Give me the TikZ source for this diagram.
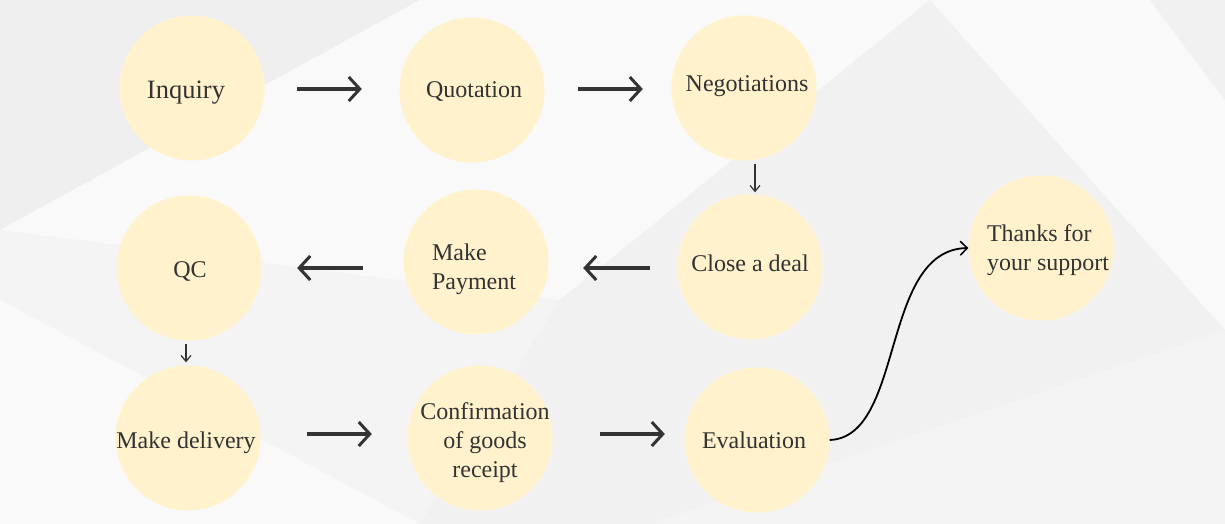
\documentclass[tikz,border=0pt]{standalone}
\usepackage{fontspec}
\setmainfont{Liberation Serif}
\usetikzlibrary{arrows.meta}
\definecolor{bub}{HTML}{FFF2CC}
\definecolor{ink}{HTML}{333333}
\definecolor{bga}{HTML}{F4F4F4}
\definecolor{bgb}{HTML}{F9F9F9}
\definecolor{bgc}{HTML}{EFEFEF}
\begin{document}
\begin{tikzpicture}[x=1pt,y=-1pt,
  bubble/.style={circle,fill=bub,minimum size=145pt,inner sep=0pt},
  txt/.style={text=ink,font=\fontsize{24}{29}\selectfont,align=center,inner sep=0pt},
  bigarrow/.style={draw=ink,line width=3.5pt,-{Straight Barb[length=11pt,width=24pt,line width=3pt]}},
  smallarrow/.style={draw=ink,line width=1.3pt,-{Straight Barb[length=6pt,width=10pt,line width=1.2pt]}},
  curvearrow/.style={draw=black,line width=1.8pt,-{Straight Barb[length=7pt,width=14pt,line width=1.5pt]}}]
% background
\fill[bga] (0,0) rectangle (1225,524);
\useasboundingbox (0,0) rectangle (1225,524);
\fill[bgc] (0,0) -- (420,0) -- (0,230) -- cycle;
\fill[bgb] (420,0) -- (930,0) -- (560,300) -- (0,230) -- cycle;
\fill[bgb] (0,300) -- (420,524) -- (0,524) -- cycle;
\fill[bgc!60!bga] (560,300) -- (930,0) -- (1225,330) -- (650,524) -- (420,524) -- cycle;
\fill[bgb] (930,0) -- (1225,0) -- (1225,330) -- cycle;
\fill[bgc!50!bga] (1150,0) -- (1225,0) -- (1225,100) -- cycle;
% circles
\node[bubble] (inq) at (192,88) {};
\node[bubble] (quo) at (472,90) {};
\node[bubble] (neg) at (744,88) {};
\node[bubble] (close) at (750,267) {};
\node[bubble] (pay) at (476,262) {};
\node[bubble] (qc) at (189,268) {};
\node[bubble] (del) at (188,438) {};
\node[bubble] (conf) at (480,438) {};
\node[bubble] (eval) at (757,440) {};
\node[bubble] (thx) at (1041,248) {};
% texts
\node[txt,font=\fontsize{26.5}{30}\selectfont] (tinq) at (186,93) {Inquiry};
\node[txt] (tquo) at (474,92) {Quotation};
\node[txt] (tneg) at (747,86) {Negotiations};
\node[txt] (tclose) at (750,263) {Close a deal};
\node[txt,align=left] (tpay) at (474,269.5) {Make\\Payment};
\node[txt] (tqc) at (190,271) {QC};
\node[txt] (tdel) at (186,443) {Make delivery};
\node[txt] (tconf) at (485,443) {Confirmation\\of goods\\receipt};
\node[txt] (teval) at (754,440) {Evaluation};
\node[txt,align=left] (tthx) at (1048,250) {Thanks for\\your support};
% connectors
\draw[bigarrow,shorten <=32.5pt,shorten >=37.5pt] ([yshift=-1pt]inq.east) -- ([yshift=-1pt]inq.east -| quo.west);
\draw[bigarrow,shorten <=33.5pt,shorten >=28.5pt] ([yshift=1pt]quo.east) -- ([yshift=1pt]quo.east -| neg.west);
\draw[bigarrow,shorten <=27.5pt,shorten >=34.5pt] ([yshift=-1pt]close.west) -- ([yshift=-1pt]close.west -| pay.east);
\draw[bigarrow,shorten <=40.5pt,shorten >=35.5pt] (pay.west |- qc.east) -- (qc.east);
\draw[bigarrow,shorten <=46.5pt,shorten >=35.5pt] ([yshift=4pt]del.east) -- ([yshift=4pt]del.east -| conf.west);
\draw[bigarrow,shorten <=47.5pt,shorten >=19.5pt] ([yshift=4pt]conf.east) -- ([yshift=4pt]conf.east -| eval.west);
\draw[smallarrow,shorten <=3pt,shorten >=2pt] ([xshift=11pt]neg.south) -- ([xshift=5pt]close.north);
\draw[smallarrow,shorten <=3pt,shorten >=3pt] ([xshift=-3pt]qc.south) -- ([xshift=-2pt]del.north);
\draw[curvearrow] (eval.east) .. controls (905,437) and (880,250) .. (thx.west);
\end{tikzpicture}
\end{document}
